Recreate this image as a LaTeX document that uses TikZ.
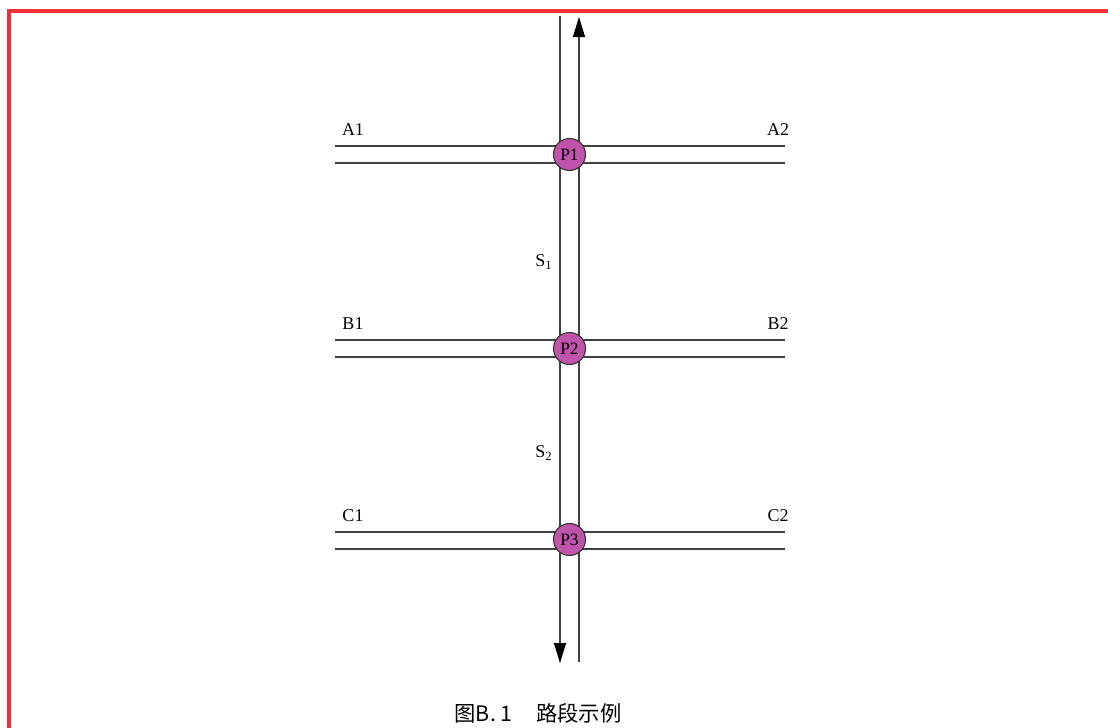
\documentclass[tikz,border=0pt]{standalone}
\usepackage{fontspec}
\setmainfont{Liberation Serif}
\newfontfamily\cjk{Noto Sans CJK SC}
\usepackage{xcolor}
\usetikzlibrary{arrows.meta,positioning,calc}
\definecolor{framered}{RGB}{240,48,56}
\definecolor{junctionfill}{RGB}{192,84,172}

\begin{document}
\begin{tikzpicture}[x=0.75pt,y=-0.75pt,
  road/.style={draw=black!75, line width=0.9pt},
  junction/.style={circle, draw=black!80, line width=0.8pt, fill=junctionfill,
    minimum size=24pt, inner sep=0pt, font=\fontsize{13}{13}\selectfont},
  roadlabel/.style={font=\fontsize{13.5}{13.5}\selectfont}]
\useasboundingbox (0,0) rectangle (1108,728);

% Outer frame
\draw[framered, line width=2.6pt] (9,728) -- (9,11) -- (1108,11);

% Cross roads (double lines) with end labels
\foreach \n/\y in {A/154.5, B/348.5, C/540.5}{
  \draw[road] (335,\y-8.5) -- (785,\y-8.5);
  \draw[road] (335,\y+8.5) -- (785,\y+8.5);
  \node[roadlabel] (\n1) at (353,\y-25) {\n1};
  \node[roadlabel] (\n2) at (778,\y-25) {\n2};
}

% Main road, two directions
\coordinate (downstart) at (560,16);
\coordinate (downend) at (560,663);
\coordinate (upstart) at (579,662);
\coordinate (upend) at (579,17);
\draw[road, -{Triangle[width=9pt,length=15pt,color=black]}] (downstart) -- (downend);
\draw[road, -{Triangle[width=9pt,length=15pt,color=black]}] (upstart) -- (upend);

% Junctions
\node[junction] (P1) at (569.5,154.5) {P1};
\node[junction] (P2) at (569.5,348.5) {P2};
\node[junction] (P3) at (569.5,539.5) {P3};

% Segment labels
\node[roadlabel, anchor=east] (S1) at (557,262) {S\textsubscript{1}};
\node[roadlabel, anchor=east] (S2) at (557,453) {S\textsubscript{2}};

% Caption
\node[font=\cjk\fontsize{16}{16}\selectfont] (caption) at (538,713) {图B.~1\hspace{1.1em}路段示例};
\end{tikzpicture}
\end{document}
